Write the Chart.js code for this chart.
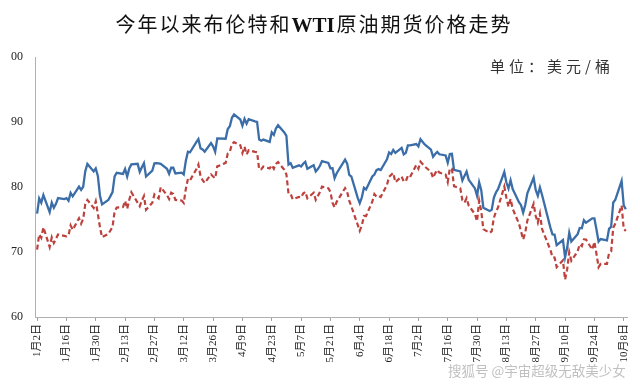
<!DOCTYPE html>
<html>
<head>
<meta charset="utf-8">
<script src="https://cdn.jsdelivr.net/npm/chart.js@4"></script>
<style>
  body { margin: 0; background: #fff; width: 640px; height: 388px; overflow: hidden; position: relative; font-family: 'Noto Sans CJK SC', sans-serif; }
  #title { position: absolute; left: 0; top: 9px; width: 628px; text-align: center; font-size: 20px; letter-spacing: 2px; color: #111; white-space: nowrap; }
  #title b { font-family: 'Liberation Serif', serif; font-weight: bold; letter-spacing: 0; font-size: 21px; margin-right: 2px; }
  #unit { position: absolute; left: 490px; top: 55px; font-size: 15px; letter-spacing: 4px; color: #333; white-space: nowrap; }
  #mark { position: absolute; left: 448px; top: 360px; font-size: 13.5px; color: rgba(150,150,150,0.6); white-space: nowrap; }
  #clip { position: absolute; left: 11px; top: 0; width: 629px; height: 388px; overflow: hidden; }
  #box { position: absolute; left: -20px; top: 0; width: 649px; height: 388px; }
</style>
</head>
<body>
<div id="clip"><div id="box"><canvas id="chart"></canvas></div></div>
<div id="title">今年以来布伦特和<b>WTI</b>原油期货价格走势</div>
<div id="unit">单位：美元/桶</div>
<div id="mark">搜狐号 @宇宙超级无敌美少女</div>
<script>
// 交易日（2024年）
const dates = [
  '1/2','1/3','1/4','1/5','1/8','1/9','1/10','1/11','1/12','1/15','1/16','1/17','1/18','1/19','1/22','1/23','1/24','1/25','1/26','1/29','1/30','1/31',
  '2/1','2/2','2/5','2/6','2/7','2/8','2/9','2/12','2/13','2/14','2/15','2/16','2/19','2/20','2/21','2/22','2/23','2/26','2/27','2/28','2/29',
  '3/1','3/4','3/5','3/6','3/7','3/8','3/11','3/12','3/13','3/14','3/15','3/18','3/19','3/20','3/21','3/22','3/25','3/26','3/27','3/28',
  '4/1','4/2','4/3','4/4','4/5','4/8','4/9','4/10','4/11','4/12','4/15','4/16','4/17','4/18','4/19','4/22','4/23','4/24','4/25','4/26','4/29','4/30',
  '5/1','5/2','5/3','5/6','5/7','5/8','5/9','5/10','5/13','5/14','5/15','5/16','5/17','5/20','5/21','5/22','5/23','5/24','5/28','5/29','5/30','5/31',
  '6/3','6/4','6/5','6/6','6/7','6/10','6/11','6/12','6/13','6/14','6/17','6/18','6/19','6/20','6/21','6/24','6/25','6/26','6/27','6/28',
  '7/1','7/2','7/3','7/5','7/8','7/9','7/10','7/11','7/12','7/15','7/16','7/17','7/18','7/19','7/22','7/23','7/24','7/25','7/26','7/29','7/30','7/31',
  '8/1','8/2','8/5','8/6','8/7','8/8','8/9','8/12','8/13','8/14','8/15','8/16','8/19','8/20','8/21','8/22','8/23','8/26','8/27','8/28','8/29','8/30',
  '9/3','9/4','9/5','9/6','9/9','9/10','9/11','9/12','9/13','9/16','9/17','9/18','9/19','9/20','9/23','9/24','9/25','9/26','9/27','9/30',
  '10/1','10/2','10/3','10/4','10/7','10/8','10/9'
];

// 布伦特
const brent = [
  75.89,78.25,77.59,78.76,76.12,77.59,76.80,77.41,78.29,78.15,78.29,77.88,79.10,78.56,80.06,79.55,80.04,82.43,83.55,82.40,82.87,81.71,
  78.70,77.33,78.00,78.59,79.21,81.63,82.19,82.00,82.77,81.60,82.86,83.47,83.56,82.34,83.03,83.67,81.62,82.53,83.65,83.68,83.62,
  83.55,82.80,82.04,82.96,82.96,82.08,82.21,81.92,84.03,85.42,85.34,86.89,87.38,85.95,85.78,85.43,86.75,86.25,85.41,87.48,
  87.42,88.92,89.35,90.65,91.17,90.38,89.42,90.48,89.74,90.45,90.10,90.02,87.29,87.11,87.29,86.94,88.42,88.02,89.01,89.50,88.40,87.86,
  83.44,83.67,82.96,83.33,83.16,83.58,83.88,82.79,83.36,82.38,82.75,83.27,83.98,83.71,82.88,82.90,81.36,82.12,84.22,83.60,81.86,81.62,
  78.36,77.52,78.41,79.87,79.62,81.63,81.92,82.60,82.75,82.62,84.25,85.33,85.07,85.71,85.24,86.01,85.01,85.25,86.39,86.41,
  86.60,86.24,87.34,86.54,85.75,84.66,85.08,85.40,85.03,84.85,83.73,85.08,85.11,82.63,82.40,81.01,81.71,82.37,81.13,79.78,78.63,80.72,
  79.52,76.81,76.30,76.48,78.33,79.16,79.66,82.30,80.69,79.76,81.04,79.68,77.66,77.20,76.05,77.22,79.02,81.43,79.55,78.65,79.94,78.80,
  73.75,72.70,72.69,71.06,71.84,69.19,70.61,72.97,71.61,72.75,73.70,73.65,74.88,74.49,75.17,75.17,73.46,71.60,71.98,71.77,
  73.56,73.90,77.62,78.05,80.93,77.18,76.58
];

// WTI（美国假日无结算，为空）
const wti = [
  70.38,72.70,72.19,73.81,70.77,72.24,71.37,72.02,72.68,null,72.40,72.56,74.08,73.41,75.19,74.37,75.09,77.36,78.01,76.78,77.82,75.85,
  73.82,72.28,72.78,73.31,73.86,76.22,76.84,76.92,77.87,76.64,78.03,79.19,null,77.04,77.91,78.61,76.49,77.58,78.87,78.54,78.26,
  79.97,78.74,78.15,79.13,78.93,78.01,77.93,77.56,79.72,81.26,81.04,82.72,83.47,81.68,81.07,80.63,81.95,81.62,81.35,83.17,
  83.71,85.15,85.43,86.59,86.91,86.43,85.23,86.21,85.02,85.66,85.41,85.36,82.69,82.73,83.14,82.85,83.36,82.81,83.57,83.85,82.63,81.93,
  79.00,78.95,78.11,78.48,78.38,78.99,79.26,78.26,79.12,78.02,78.63,79.23,80.06,79.80,79.26,77.57,76.87,77.72,79.83,79.23,77.91,77.00,
  74.22,73.25,74.07,75.55,75.53,77.74,78.90,78.50,78.62,78.45,80.33,81.57,null,82.17,80.73,81.63,80.83,80.90,81.74,81.54,
  83.38,82.81,83.88,83.16,82.33,81.41,82.10,82.62,82.21,81.91,80.76,82.85,82.82,80.13,79.78,77.96,77.59,78.28,77.16,75.81,74.73,77.91,
  76.31,73.52,72.94,73.20,75.23,76.19,76.84,80.06,78.35,76.98,78.16,76.65,74.37,73.17,71.93,73.01,74.83,77.42,75.53,74.52,75.91,73.55,
  70.34,69.20,69.15,67.67,68.71,65.75,67.31,69.97,68.65,70.09,71.19,70.91,71.95,71.92,70.37,71.56,69.69,67.67,68.18,68.17,
  69.83,70.10,73.71,74.38,77.14,73.57,73.24
];

// 横轴刻度（每14天）
const tickLabels = ['1月2日','1月16日','1月30日','2月13日','2月27日','3月12日','3月26日','4月9日','4月23日','5月7日','5月21日',
  '6月4日','6月18日','7月2日','7月16日','7月30日','8月13日','8月27日','9月10日','9月24日','10月8日'];
const yTicks = [60, 70, 80, 90, 100];

// 距1月2日的天数
function dayOf(s) {
  const [m, d] = s.split('/').map(Number);
  return (Date.UTC(2024, m - 1, d) - Date.UTC(2024, 0, 2)) / 86400000;
}

const brentPoints = dates.map((d, i) => ({ x: dayOf(d), y: brent[i] }));
const wtiPoints = dates.map((d, i) => ({ x: dayOf(d), y: wti[i] }));

new Chart(document.getElementById('chart'), {
  type: 'line',
  data: {
    datasets: [
      { label: '布伦特', data: brentPoints, borderColor: '#3B6EA8', borderWidth: 2.3, pointRadius: 0, tension: 0 },
      { label: 'WTI', data: wtiPoints, borderColor: '#BD423E', borderWidth: 2.2, borderDash: [5, 3], pointRadius: 0, tension: 0, spanGaps: true }
    ]
  },
  options: {
    responsive: true,
    maintainAspectRatio: false,
    animation: false,
    layout: { padding: { top: 57, right: 12, bottom: 0, left: 0 } },
    plugins: { legend: { display: false }, tooltip: { enabled: false } },
    scales: {
      x: {
        type: 'linear',
        min: -1,
        max: 282,
        afterBuildTicks: s => { s.ticks = tickLabels.map((t, i) => ({ value: i * 14 })); },
        afterFit: s => { s.height = 71; },
        ticks: {
          autoSkip: false,
          maxRotation: 90,
          minRotation: 90,
          padding: 3,
          color: '#222',
          font: { family: "'Liberation Serif', 'Noto Sans CJK SC'", size: 11 },
          callback: (v, i) => tickLabels[i]
        },
        grid: { display: true, drawOnChartArea: false, tickLength: 4, color: '#a0a0a0' },
        border: { color: '#b0b0b0' }
      },
      y: {
        min: 60,
        max: 100,
        afterBuildTicks: s => { s.ticks = yTicks.map(v => ({ value: v })); },
        afterFit: s => { s.width = 44; },
        ticks: {
          padding: 12,
          color: '#222',
          font: { family: "'Liberation Serif', serif", size: 12 }
        },
        grid: { display: false, drawTicks: false },
        border: { display: true, color: '#b0b0b0' }
      }
    }
  }
});
</script>
</body>
</html>
